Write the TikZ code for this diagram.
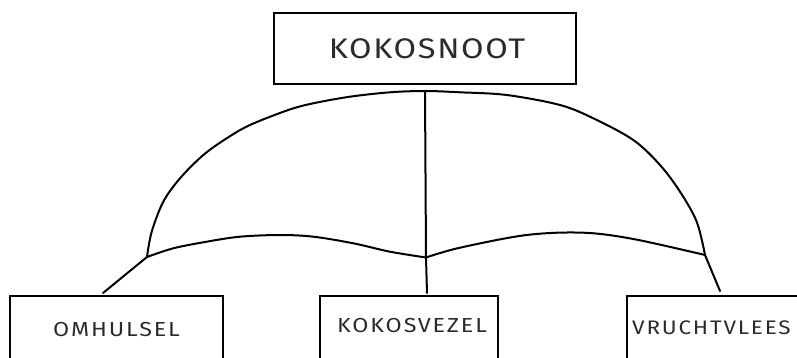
\documentclass[tikz,border=0pt]{standalone}
\usepackage{fontspec}
\setmainfont{Fira Sans}
\newfontfamily\bigfont[LetterSpace=5]{Fira Sans}
\newfontfamily\smallfont[LetterSpace=8]{Fira Sans}
\definecolor{txtgray}{HTML}{2B2B2B}
\tikzset{
  box/.style={draw=black, line width=2pt, rectangle, inner sep=0pt, anchor=north west},
  lbl/.style={text=txtgray, inner sep=0pt},
  conn/.style={draw=black, line width=2pt, line cap=round, line join=round},
}
\newcommand{\wide}[1]{\scalebox{1.15}[1]{#1}}
\begin{document}
\begin{tikzpicture}[x=1pt,y=-1pt]
\useasboundingbox (0,0) rectangle (797,358);
% boxes
\node[box, minimum width=302pt, minimum height=71pt] (top) at (273,12) {};
\node[box, minimum width=213pt, minimum height=100pt] (omh) at (9,295) {};
\node[box, minimum width=178pt, minimum height=100pt] (kok) at (319,295) {};
\node[box, minimum width=250pt, minimum height=100pt] (vru) at (626,295) {};
% labels
\node[lbl, anchor=base, font=\bigfont\fontsize{28.3}{30}\selectfont] (ttop) at (427,58.7) {\wide{KOKOSNOOT}};
\node[lbl, anchor=base, font=\smallfont\fontsize{20.3}{22}\selectfont] (tomh) at (116.5,336.7) {\wide{OMHULSEL}};
\node[lbl, anchor=base, font=\smallfont\fontsize{20.3}{22}\selectfont] (tkok) at (412,332) {\wide{KOKOSVEZEL}};
\node[lbl, anchor=base west, font=\smallfont\fontsize{19.6}{22}\selectfont] (tvru) at (632,334) {\wide{VRUCHTVLEES}};
% junctions
\coordinate (apex) at (425,91);
\coordinate (jl) at (147,257);
\coordinate (jc) at (426,257.5);
\coordinate (jr) at (705,255);
\coordinate (omhe) at (103,293);
\coordinate (koke) at (427,293);
\coordinate (vrue) at (720,291);
% connectors
\draw[conn] (apex) -- (jc) -- (koke);
\draw[conn] (jl) -- (omhe);
\draw[conn] (jr) -- (vrue);
\draw[conn] plot[smooth, tension=0.55] coordinates {(jl) (151.7,231.7) (163.3,201.7) (180,178.3) (203.3,155) (226.7,138.3) (250,125) (288.3,110) (313.3,103.3) (350,96.7) (390,92.3) (apex) (460,92.3) (506.7,95) (560,105) (593.3,118.3) (633.3,140) (660,165) (680,191.7) (696.7,221.7) (jr)};
\draw[conn] plot[smooth, tension=0.55] coordinates {(jl) (173.3,248.3) (206.7,241.7) (240,236.7) (280,235) (313.3,236.7) (353.3,243.3) (390,251.7) (jc)};
\draw[conn] plot[smooth, tension=0.55] coordinates {(jc) (460,247.7) (526.7,235) (583.3,232.7) (633.3,239) (jr)};
\end{tikzpicture}
\end{document}
